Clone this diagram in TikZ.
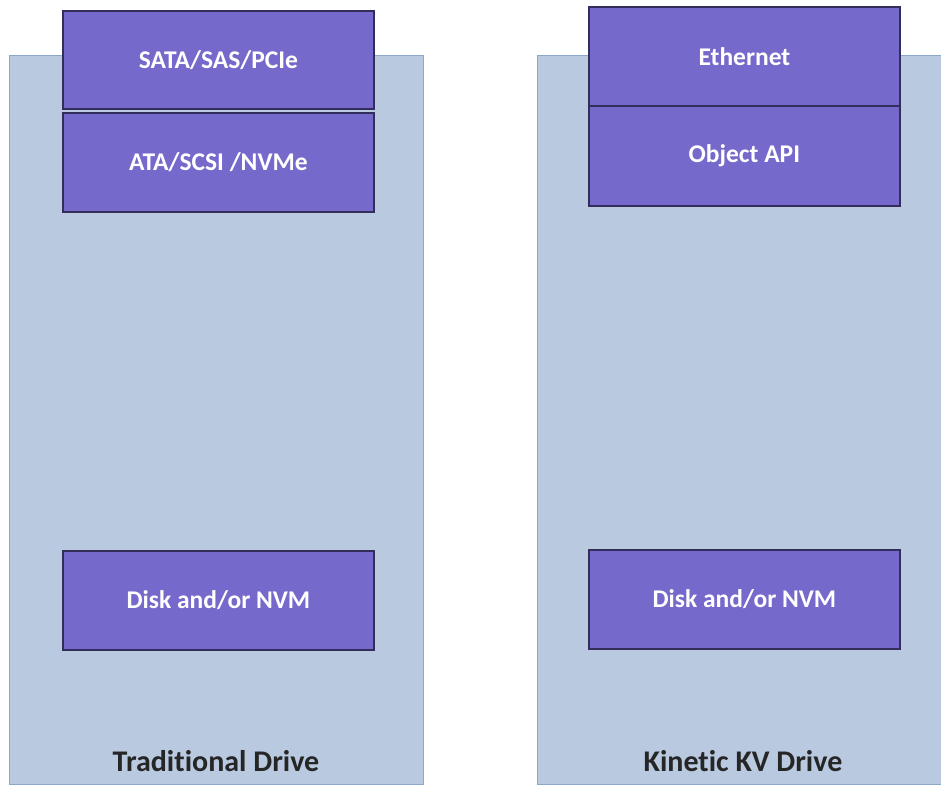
\documentclass[tikz,border=0pt]{standalone}
\usepackage{fontspec}
\setmainfont[Ligatures={NoCommon,NoContextual}]{Carlito}
\definecolor{layerfill}{RGB}{117,106,203}
\definecolor{layerline}{RGB}{50,45,90}
\definecolor{drivefill}{RGB}{184,201,224}
\definecolor{driveline}{RGB}{140,166,206}
\tikzset{
  drivebox/.style={draw=driveline, line width=1.2pt, fill=drivefill, anchor=north west, inner sep=0pt},
  layer/.style={draw=layerline, line width=1.8pt, fill=layerfill, anchor=north west, inner sep=0pt,
    text=white, font=\bfseries\fontsize{25.5}{28}\selectfont, align=center},
  drivelabel/.style={text=black!85, font=\bfseries\fontsize{30}{34}\selectfont}
}
\begin{document}
\begin{tikzpicture}[x=1pt,y=-1pt]
\clip (0,0) rectangle (941,784);
\fill[white] (0,0) rectangle (941,784);
% drives
\node[drivebox, minimum width=414pt, minimum height=729pt] (trad) at (9,55) {};
\node[drivebox, minimum width=420pt, minimum height=729pt] (kin) at (537,55) {};
% traditional layers
\node[layer, minimum width=311pt, minimum height=98pt] (sata) at (62,10) {SATA/SAS/PCIe};
\node[layer, minimum width=311pt, minimum height=99pt] (ata) at (62,112) {ATA/SCSI /NVMe};
\node[layer, minimum width=311pt, minimum height=99pt] (disk1) at (62,550) {Disk and/or NVM};
% kinetic layers
\node[layer, minimum width=311pt, minimum height=99pt] (eth) at (588,6) {Ethernet};
\node[layer, minimum width=311pt, minimum height=100pt] (api) at (588,105) {Object API};
\node[layer, minimum width=311pt, minimum height=99pt] (disk2) at (588,549) {Disk and/or NVM};
% labels
\node[drivelabel] (tradlabel) at (216,761) {Traditional Drive};
\node[drivelabel] (kinlabel) at (743,761) {Kinetic KV Drive};
\end{tikzpicture}
\end{document}
